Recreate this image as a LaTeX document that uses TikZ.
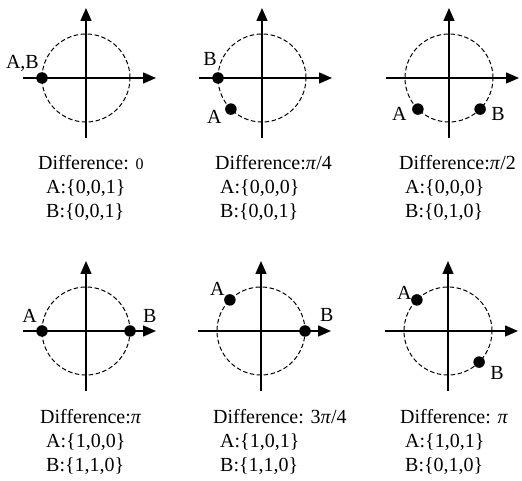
\documentclass[tikz,border=0pt]{standalone}
\usepackage{fontspec}
\setmainfont{Liberation Serif}
\usetikzlibrary{arrows.meta}
\newcommand\phasepanel[3]{%
  \coordinate (#1) at (#2,#3);
  \coordinate (#1w) at (#2-63,#3);
  \coordinate (#1e) at (#2+70,#3);
  \coordinate (#1s) at (#2,#3-60);
  \coordinate (#1n) at (#2,#3+70);
  \node[ring] (#1ring) at (#1) {};
  \draw[axisline] (#1w) -- (#1e);
  \draw[axisline] (#1s) -- (#1n);
}
\begin{document}
\begin{tikzpicture}[x=1pt,y=1pt,
  axisline/.style={line width=1.5pt,-{Triangle[length=13pt,width=11pt]}},
  ring/.style={circle,draw,dash pattern=on 4.5pt off 2.5pt,line width=1pt,minimum size=88pt,inner sep=0pt,outer sep=0pt},
  dot/.style={circle,fill=black,inner sep=0pt,minimum size=11.5pt},
  lbl/.style={font=\fontsize{20}{22}\selectfont,inner sep=0pt},
  captext/.style={font=\fontsize{20}{22}\selectfont,inner sep=0pt,anchor=base west},
]
\useasboundingbox (0,0) rectangle (522,481);
% panel centres
\phasepanel{p1}{86}{403}
\phasepanel{p2}{262}{403}
\phasepanel{p3}{449}{403}
\phasepanel{p4}{86}{150}
\phasepanel{p5}{261}{150}
\phasepanel{p6}{448}{150}
% dots and labels
\node[dot] (p1a) at (p1ring.180) {};
\node[lbl,anchor=base east] (p1la) at ([shift={(-3,9)}]p1a) {A,B};

\node[dot] (p2b) at (p2ring.180) {};
\node[lbl,anchor=base east] (p2lb) at ([shift={(-1,12)}]p2b) {B};
\node[dot] (p2a) at (p2ring.225) {};
\node[lbl,anchor=base east] (p2la) at ([shift={(-9,-14)}]p2a) {A};

\node[dot] (p3a) at (p3ring.225) {};
\node[lbl,anchor=base east] (p3la) at ([shift={(-11,-11)}]p3a) {A};
\node[dot] (p3b) at (p3ring.315) {};
\node[lbl,anchor=base west] (p3lb) at ([shift={(11,-11)}]p3b) {B};

\node[dot] (p4a) at (p4ring.180) {};
\node[lbl,anchor=base east] (p4la) at ([shift={(-5,8)}]p4a) {A};
\node[dot] (p4b) at (p4ring.0) {};
\node[lbl,anchor=base west] (p4lb) at ([shift={(13,8)}]p4b) {B};

\node[dot] (p5a) at (p5ring.135) {};
\node[lbl,anchor=base east] (p5la) at ([shift={(-5,4)}]p5a) {A};
\node[dot] (p5b) at (p5ring.0) {};
\node[lbl,anchor=base west] (p5lb) at ([shift={(15,9)}]p5b) {B};

\node[dot] (p6a) at (p6ring.135) {};
\node[lbl,anchor=base east] (p6la) at ([shift={(-5,0)}]p6a) {A};
\node[dot] (p6b) at (p6ring.315) {};
\node[lbl,anchor=base west] (p6lb) at ([shift={(11,-17)}]p6b) {B};
% captions
\node[captext] (d1) at (38,311) {Difference: {\fontsize{16}{18}\selectfont 0}};
\node[captext] (s1a) at (46,287) {A:\{0,0,1\}};
\node[captext] (s1b) at (46,263) {B:\{0,0,1\}};

\node[captext] (d2) at (215,311) {Difference:\textit{π}/4};
\node[captext] (s2a) at (220,287) {A:\{0,0,0\}};
\node[captext] (s2b) at (220,263) {B:\{0,0,1\}};

\node[captext] (d3) at (399,311) {Difference:\textit{π}/2};
\node[captext] (s3a) at (405,287) {A:\{0,0,0\}};
\node[captext] (s3b) at (405,263) {B:\{0,1,0\}};

\node[captext] (d4) at (40,57) {Difference:\textit{π}};
\node[captext] (s4a) at (46,33) {A:\{1,0,0\}};
\node[captext] (s4b) at (46,9) {B:\{1,1,0\}};

\node[captext] (d5) at (213,57) {Difference: 3\textit{π}/4};
\node[captext] (s5a) at (220,33) {A:\{1,0,1\}};
\node[captext] (s5b) at (220,9) {B:\{1,1,0\}};

\node[captext] (d6) at (400,57) {Difference: \textit{π}};
\node[captext] (s6a) at (405,33) {A:\{1,0,1\}};
\node[captext] (s6b) at (405,9) {B:\{0,1,0\}};
\end{tikzpicture}
\end{document}
